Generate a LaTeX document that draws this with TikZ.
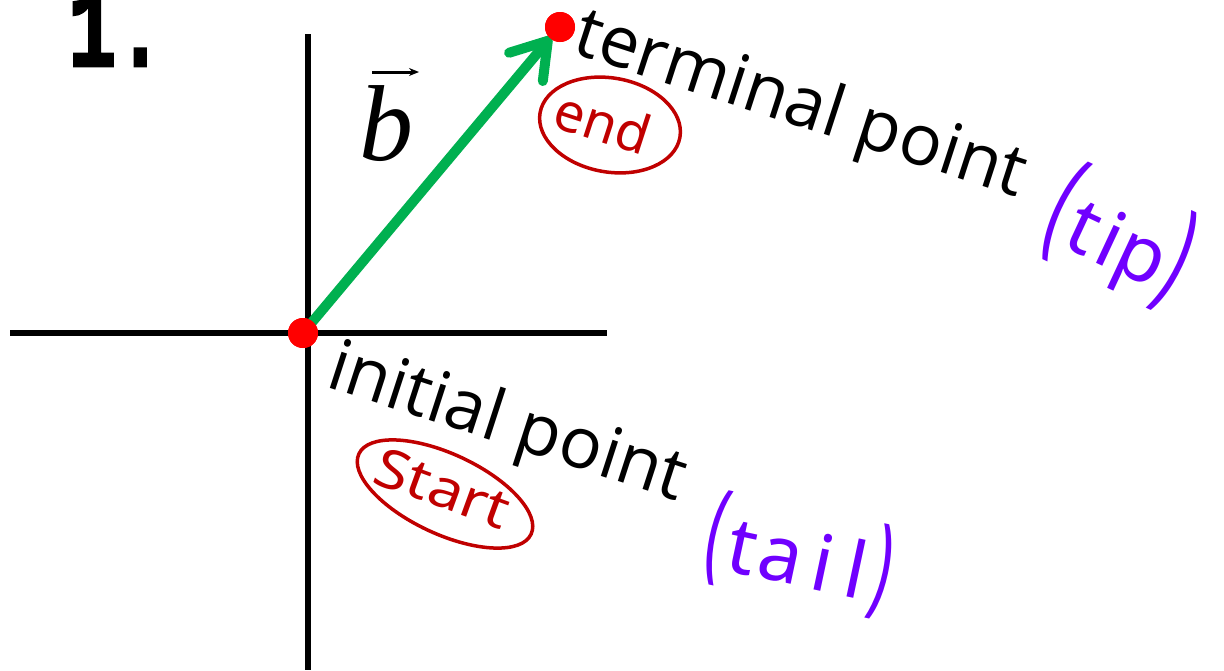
\documentclass[tikz,border=0pt]{standalone}
\usepackage{fontspec}
\setmainfont{Open Sans}
\newfontfamily\handfont{Noto Sans}
\newfontfamily\monofont{Liberation Mono}[BoldFont={Liberation Mono Bold},BoldFeatures={FakeBold=2.5}]
\newfontfamily\timesfont{Liberation Serif}
\newcommand\tallparen[2]{\scalebox{0.72}[#1]{#2}}
\usetikzlibrary{arrows.meta,shapes.geometric}
\definecolor{arrowgreen}{HTML}{00B050}
\definecolor{inkred}{HTML}{C00000}
\definecolor{inkpurple}{HTML}{7000FF}
\definecolor{dotred}{HTML}{FF0000}
\begin{document}
\begin{tikzpicture}[x=1pt,y=-1pt,
  axis/.style={line width=6.5pt,black},
  reddot/.style={circle,fill=dotred,minimum size=30pt,inner sep=0pt},
  label/.style={inner sep=0pt,anchor=base west,rotate=-18,font=\fontsize{71}{80}\selectfont},
  redloop/.style={ellipse,draw=inkred,line width=3.5pt,inner sep=0pt},
  redink/.style={text=inkred,inner sep=0pt,font=\handfont\fontsize{54}{60}\selectfont},
  purpleink/.style={text=inkpurple,inner sep=0pt,font=\handfont\fontsize{78}{90}\selectfont},
  vecarrow/.style={arrowgreen,line width=10pt,line cap=round,
     -{Straight Barb[length=34pt,width=44pt,round]}}
]
\useasboundingbox (0,0) rectangle (1224,670);

% axes
\coordinate (xl) at (10,333);
\coordinate (xr) at (607,333);
\coordinate (yt) at (308,34);
\coordinate (yb) at (308,670);
\draw[axis] (xl) -- (xr);
\draw[axis] (yt) -- (yb);

% number
\node[inner sep=0pt,anchor=base west,yscale=1.45,font=\monofont\bfseries\fontsize{80}{90}\selectfont] (num) at (68,66) {1.};

% vector name
\node[inner sep=0pt,font=\timesfont\itshape\fontsize{108}{110}\selectfont] (bname) at (386,124) {b};
\coordinate (va) at (372,72);
\coordinate (vb) at (419,72);
\draw[line width=3pt,-{Stealth[length=10pt,width=8pt]}] (va) -- (vb);

% vector
\node[reddot] (O) at (303,333) {};
\node[reddot] (T) at (560,27) {};
\coordinate (tipC) at (551,37);
\draw[vecarrow] (O.center) -- (tipC);
\node[reddot] at (O) {};
\node[reddot] at (T) {};

% labels
\node[label] (term) at (570,52) {terminal point};
\node[label] (init) at (324,386) {initial point};

% handwritten notes
\node[redloop,minimum width=142pt,minimum height=94pt,rotate=-10] (endloop) at (610,125) {};
\node[redink,rotate=-18] (endtxt) at (603,122) {end};
\node[redloop,minimum width=190pt,minimum height=80pt,rotate=-25] (startloop) at (445,494) {};
\node[redink,rotate=-20,xscale=1.15] (starttxt) at (443,488) {Start};

\node[purpleink,rotate=-25] (tip) at (1120,236) {\fontsize{95}{95}\selectfont\tallparen{1.3}{(}\kern2pt\fontsize{78}{90}\selectfont t\kern6pt ip\fontsize{95}{95}\selectfont\tallparen{1.3}{)}};
\node[purpleink,rotate=-12] (tail) at (799,555) {\fontsize{85}{85}\selectfont\tallparen{1.3}{(}\kern4pt\fontsize{78}{90}\selectfont t\kern4pt a\kern10pt i\kern14pt l\kern6pt\fontsize{85}{85}\selectfont\tallparen{1.3}{)}};
\end{tikzpicture}
\end{document}
